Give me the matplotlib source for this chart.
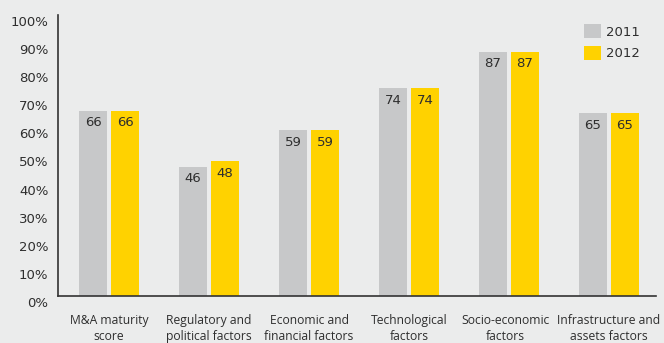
import matplotlib
matplotlib.use("Agg")
import matplotlib.pyplot as plt
import matplotlib.transforms as mtransforms
import numpy as np

categories = ["M&A maturity\nscore", "Regulatory and\npolitical factors",
              "Economic and\nfinancial factors", "Technological\nfactors",
              "Socio-economic\nfactors", "Infrastructure and\nassets factors"]
values_2011 = [66, 46, 59, 74, 87, 65]
values_2012 = [66, 48, 59, 74, 87, 65]
series_names = ["2011", "2012"]
yticks = [0, 10, 20, 30, 40, 50, 60, 70, 80, 90, 100]
ytick_labels = [f"{v}%" for v in yticks]

bg = "#ebecec"
gray = "#c7c8c9"
yellow = "#ffd200"
text_color = "#2e2e2e"

plt.rcParams["font.family"] = ["DejaVu Sans"]

fig = plt.figure(figsize=(6.64, 3.43), dpi=100, facecolor=bg)
ax = fig.add_axes([58 / 664, 1 - 296 / 343, (656 - 58) / 664, (296 - 15) / 343])
ax.set_facecolor(bg)

x = np.arange(len(categories))
w = 0.28
off = 0.16
b1 = ax.bar(x - off, values_2011, w, color=gray, label=series_names[0], zorder=2)
b2 = ax.bar(x + off, values_2012, w, color=yellow, label=series_names[1], zorder=2)

for bars, vals in ((b1, values_2011), (b2, values_2012)):
    for rect, v in zip(bars, vals):
        ax.annotate(str(v), (rect.get_x() + rect.get_width() / 2, v),
                    xytext=(0, -12), textcoords="offset pixels",
                    ha="center", va="center", fontsize=9.5, color=text_color)

ax.set_xlim(-0.51, 5.47)
ax.set_ylim(0, 100)
ax.set_yticks(yticks)
ax.set_yticklabels(ytick_labels, fontsize=9.5, color=text_color,
                   family=["DejaVu Sans"])
ax.set_xticks(x)
ax.set_xticklabels(categories, fontsize=8.7, color=text_color, linespacing=1.3,
                   family=["Open Sans", "DejaVu Sans"])
ax.tick_params(axis="both", length=0)
ax.tick_params(axis="y", pad=7)
ax.tick_params(axis="x", pad=13)

# shift the y tick labels slightly down
shift = mtransforms.ScaledTranslation(0, -6 / 100, fig.dpi_scale_trans)
for lbl in ax.get_yticklabels():
    lbl.set_transform(lbl.get_transform() + shift)

# nudge the long fifth label a little to the left
nudge = mtransforms.ScaledTranslation(-4 / 100, 0, fig.dpi_scale_trans)
xl = ax.get_xticklabels()[4]
xl.set_transform(xl.get_transform() + nudge)

for side in ("top", "right"):
    ax.spines[side].set_visible(False)
for side in ("left", "bottom"):
    ax.spines[side].set_color("#333333")
    ax.spines[side].set_linewidth(1.2)

leg = ax.legend(loc="upper right", bbox_to_anchor=(640 / 664, 1 - 24 / 343),
                bbox_transform=fig.transFigure, frameon=False, fontsize=9.5,
                handlelength=1.29, handleheight=1.29, handletextpad=0.38,
                labelspacing=0.53, borderaxespad=0, borderpad=0)
for t in leg.get_texts():
    t.set_color(text_color)

fig.savefig("out.png", dpi=100, facecolor=bg)
